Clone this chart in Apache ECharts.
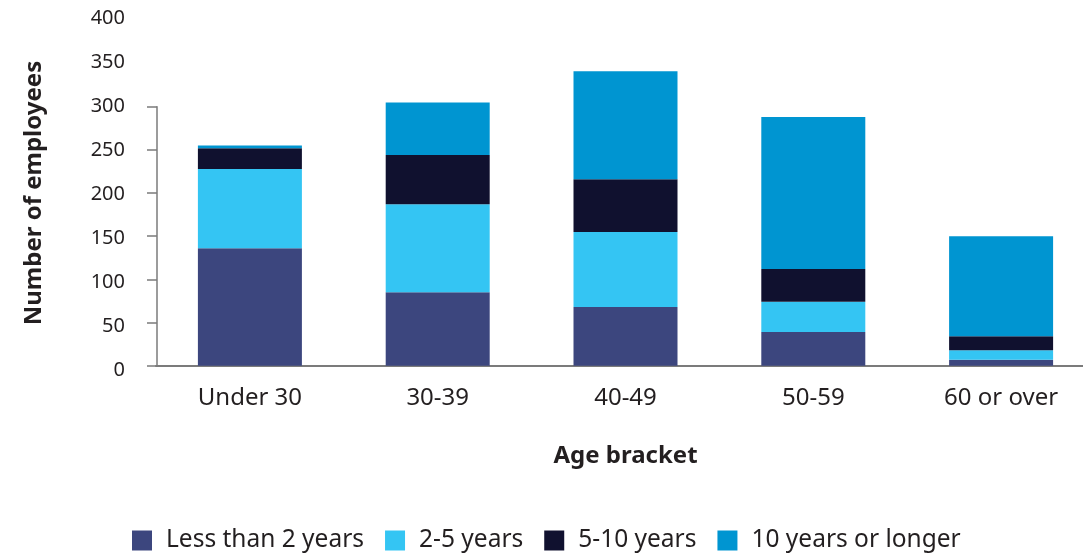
<!DOCTYPE html>
<html>
<head>
<meta charset="utf-8">
<title>Employees by age bracket and length of service</title>
<script src="https://cdn.jsdelivr.net/npm/echarts@6/dist/echarts.min.js"></script>
<style>
  html, body { margin: 0; padding: 0; background: #ffffff; }
  #chart { width: 1083px; height: 553px; }
</style>
</head>
<body>
<div id="chart"></div>
<script>
// Age brackets along the x axis
const categories = ['Under 30', '30-39', '40-49', '50-59', '60 or over'];

// Length-of-service groups (stack order, bottom to top)
const seriesNames = ['Less than 2 years', '2-5 years', '5-10 years', '10 years or longer'];
const lessThan2 = [136, 85, 68, 39, 7];
const years2to5 = [92, 102, 87, 35, 11];
const years5to10 = [24, 57, 61, 38, 16];
const years10plus = [3, 61, 125, 176, 116];

// Tick values
const yTicks = [0, 50, 100, 150, 200, 250, 300, 350, 400];

const colors = ['#3c467e', '#34c5f3', '#10112f', '#0095d1'];
const textColor = '#231f20';
const axisColor = '#7b7b7b';
const fontFamily = '"Noto Sans", "Open Sans", sans-serif';

const values = [lessThan2, years2to5, years5to10, years10plus];

const chart = echarts.init(document.getElementById('chart'), null, { renderer: 'canvas' });

const option = {
  backgroundColor: '#ffffff',
  textStyle: { fontFamily: fontFamily, color: textColor },
  animation: false,
  grid: [
    // plotting area for the stacked bars
    { left: 156, top: 20.4, width: 939, height: 345.3, outerBoundsMode: 'none', containLabel: false },
    // drawn vertical axis (runs only up to 300)
    { left: 157, top: 106.7, width: 939, height: 259, outerBoundsMode: 'none', containLabel: false },
    // tick label column
    { left: 156, top: 18, width: 939, height: 352, outerBoundsMode: 'none', containLabel: false }
  ],
  xAxis: [
    {
      type: 'category',
      gridIndex: 0,
      data: categories,
      axisLine: { show: true, lineStyle: { color: axisColor, width: 2 } },
      axisTick: { show: false },
      axisLabel: { color: textColor, fontSize: 24, margin: 20, fontFamily: fontFamily },
      name: 'Age bracket',
      nameLocation: 'middle',
      nameGap: 78,
      nameTextStyle: { fontSize: 24, fontWeight: 'bold', color: textColor, fontFamily: fontFamily }
    },
    { type: 'value', gridIndex: 1, show: false },
    { type: 'value', gridIndex: 2, show: false }
  ],
  yAxis: [
    {
      type: 'value',
      gridIndex: 0,
      min: 0,
      max: 400,
      interval: 50,
      axisLine: { show: false },
      axisTick: { show: false },
      axisLabel: { show: false },
      splitLine: { show: false },
      name: 'Number of employees',
      nameLocation: 'middle',
      nameGap: 110,
      nameTextStyle: { fontSize: 24, fontWeight: 'bold', color: textColor, fontFamily: fontFamily }
    },
    {
      type: 'value',
      gridIndex: 1,
      min: 0,
      max: 300,
      interval: 50,
      axisLine: { show: true, lineStyle: { color: axisColor, width: 1.5 } },
      axisTick: { show: true, length: 10, lineStyle: { color: axisColor, width: 1.5 } },
      axisLabel: { show: false },
      splitLine: { show: false }
    },
    {
      type: 'value',
      gridIndex: 2,
      min: yTicks[0],
      max: yTicks[yTicks.length - 1],
      interval: 50,
      axisLine: { show: false },
      axisTick: { show: false },
      axisLabel: { color: textColor, fontSize: 20, margin: 31, fontFamily: fontFamily },
      splitLine: { show: false }
    }
  ],
  legend: {
    left: 132,
    top: 528,
    padding: 0,
    itemWidth: 20,
    itemHeight: 20,
    itemGap: 21,
    icon: 'rect',
    data: seriesNames,
    textStyle: { fontSize: 24.5, color: textColor, fontFamily: fontFamily, padding: [0, 0, 0, 9] }
  },
  series: seriesNames.map((name, i) => ({
    name: name,
    type: 'bar',
    stack: 'total',
    xAxisIndex: 0,
    yAxisIndex: 0,
    barWidth: 104,
    itemStyle: { color: colors[i] },
    data: values[i]
  }))
};

chart.setOption(option);
</script>
</body>
</html>
